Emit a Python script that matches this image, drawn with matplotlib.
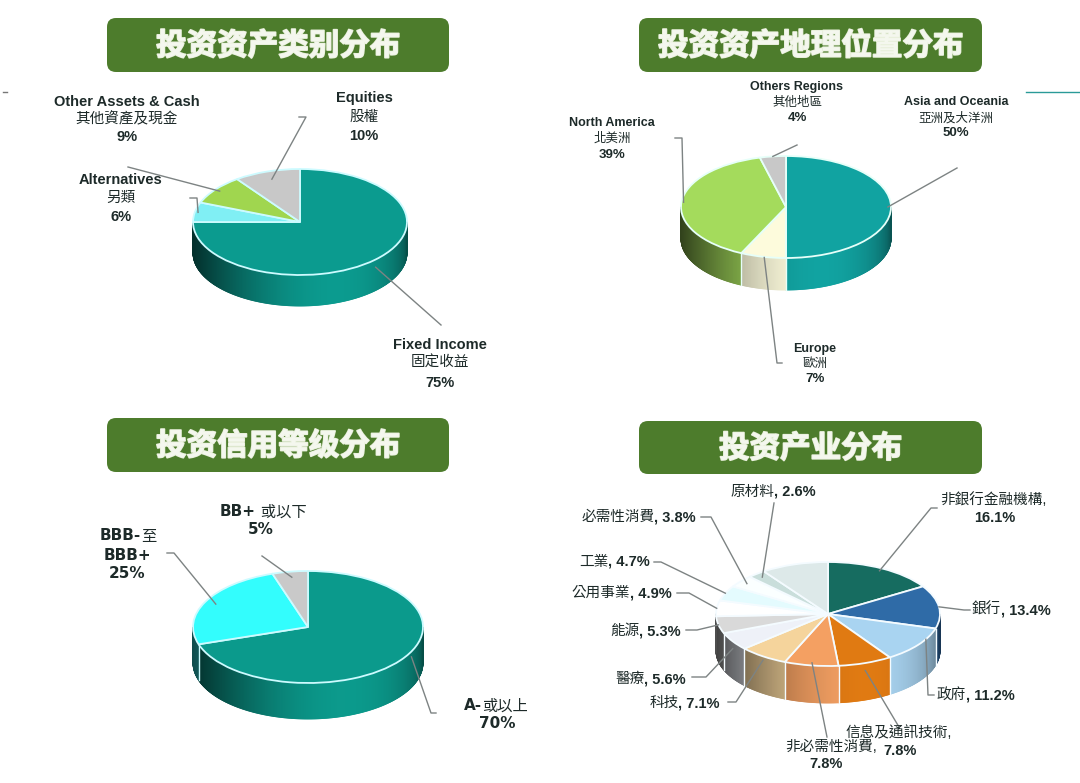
"""Four 3-D style pie charts: asset class, region, credit rating and industry."""

import numpy as np
import matplotlib

matplotlib.use("Agg")
import matplotlib.pyplot as plt
import matplotlib.colors as mcolors
import matplotlib.patheffects as pe
from matplotlib.collections import PolyCollection
from matplotlib.patches import FancyBboxPatch
from matplotlib.transforms import Affine2D

W, H = 1080, 783
CJK = "Noto Sans CJK TC"
LATIN = ["Liberation Sans", CJK, "DejaVu Sans"]
VERD = ["DejaVu Sans", CJK]
INK = "#1d2a29"
LINE = "#7d8383"
BANNER = "#4d7c2c"

# ---- data ---------------------------------------------------------------
titles = ["投资资产类别分布", "投资资产地理位置分布", "投资信用等级分布", "投资产业分布"]

asset_en = ["Fixed Income", "Alternatives", "Other Assets & Cash", "Equities"]
asset_zh = ["固定收益", "另類", "其他資產及現金", "股權"]
asset_values = [75, 6, 9, 10]

region_en = ["Asia and Oceania", "Europe", "North America", "Others Regions"]
region_zh = ["亞洲及大洋洲", "歐洲", "北美洲", "其他地區"]
region_values = [50, 7, 39, 4]

credit_grade = ["A-", "BBB-", "BB+"]
credit_zh = ["或以上", "至", " 或以下"]
credit_values = [70, 25, 5]

industry_names = ["非銀行金融機構", "銀行", "政府", "信息及通訊技術", "非必需性消費",
                  "科技", "醫療", "能源", "公用事業", "工業", "必需性消費", "原材料", ""]
industry_values = [16.1, 13.4, 11.2, 7.8, 7.8, 7.1, 5.6, 5.3, 4.9, 4.7, 3.8, 2.6, 9.7]

# ---- styles ---------------------------------------------------------------
asset_colors = ["#0b9b8f", "#80eff4", "#a0d64f", "#c8c8c8"]
region_colors = ["#11a3a1", "#fdfbdc", "#a4db5c", "#c8c8c8"]
credit_colors = ["#0b9a8c", "#33fdfd", "#c9c9c9"]
industry_colors = ["#166c60", "#2f6ba7", "#a9d4f1", "#e07a12", "#f4a062", "#f5d49c",
                   "#eef1f8", "#d9d9d9", "#ffffff", "#e4fbfe", "#fbffff", "#c9dedb",
                   "#dde9e9"]

# pie geometry in image pixels: centre x, centre y, half width, half height, depth
geo_asset = (300, 222, 107, 53, 31)
geo_region = (786, 207, 105, 51, 32)
geo_credit = (308, 627, 115, 56, 36)
geo_industry = (828, 614, 112, 52, 37)


def Y(y):
    return H - y


def wall_shade(tm):
    # light comes from the front right: darkest at the left edge
    phi = np.degrees(tm) % 360 - 290
    g = np.cos(np.radians(phi * 90 / 110))
    return 0.3 + 0.7 * max(g, 0) ** 2


def draw_pie(ax, values, colors, geo, edge):
    cx, cy, a, b, depth = geo
    cyy = Y(cy)
    wedges, _ = ax.pie(values, colors=colors, startangle=90, counterclock=False,
                       radius=a, center=(cx, cyy),
                       wedgeprops=dict(edgecolor=edge, linewidth=1.3))
    squash = Affine2D().translate(-cx, -cyy).scale(1, b / a).translate(cx, cyy)
    for w in wedges:
        w.set_transform(squash + ax.transData)
        w.set_zorder(3)

    # shaded side wall on the front half
    polys, fcs = [], []
    for w, c in zip(wedges, colors):
        t = np.radians(np.append(np.arange(w.theta1, w.theta2, 0.5), w.theta2))
        rgb = np.array(mcolors.to_rgb(c))
        for t0, t1 in zip(t[:-1], t[1:]):
            tm = 0.5 * (t0 + t1)
            if np.sin(tm) >= 0:
                continue
            x0, x1 = cx + a * np.cos(t0), cx + a * np.cos(t1)
            y0, y1 = cyy + b * np.sin(t0), cyy + b * np.sin(t1)
            polys.append([(x0, y0), (x1, y1), (x1, y1 - depth), (x0, y0 - depth)])
            fcs.append(np.clip(rgb * wall_shade(tm), 0, 1))
    ax.add_collection(PolyCollection(polys, facecolors=fcs, edgecolors=fcs,
                                     linewidths=0.6, zorder=2))
    for w in wedges:
        th = np.radians(w.theta1)
        if np.sin(th) < -0.05:
            x = cx + a * np.cos(th)
            y = cyy + b * np.sin(th)
            ax.plot([x, x], [y, y - depth], color=edge, lw=1.0, zorder=2.5)
    return wedges


def leader(ax, geo, wedge, pts, r=1.0, drop=0.0, f=0.5):
    cx, cy, a, b, depth = geo
    th = np.radians(wedge.theta1 + f * (wedge.theta2 - wedge.theta1))
    xs = [cx + r * a * np.cos(th)] + [p[0] for p in pts]
    ys = [Y(cy) + r * b * np.sin(th) - drop * depth] + [Y(p[1]) for p in pts]
    ax.plot(xs, ys, color=LINE, lw=1.0, zorder=4)


def line(ax, x, y, s, weight="bold", size=10.5, family=LATIN, ha="center"):
    return ax.text(x, Y(y), s, ha=ha, va="center", fontsize=size,
                   fontweight=weight, family=family, color=INK, zorder=5)


def rich(ax, x, y, parts, ha="left", size=10.5, family=LATIN):
    order = parts if ha == "left" else parts[::-1]
    prev = None
    for txt, wt in order:
        kw = dict(ha=ha, fontsize=size, fontweight=wt, family=family,
                  color=INK, zorder=5)
        if prev is None:
            prev = ax.text(x, Y(y), txt, va="center", **kw)
        else:
            prev = ax.annotate(txt, xy=(1 if ha == "left" else 0, 0),
                               xycoords=prev, va="bottom", **kw)
    return prev


fig = plt.figure(figsize=(W / 100, H / 100), dpi=100)
ax = fig.add_axes([0, 0, 1, 1])

# ---- title banners ------------------------------------------------------
banners = [(107, 18, 449, 72), (639, 18, 982, 72), (107, 418, 449, 472), (639, 421, 982, 474)]
for (x0, y0, x1, y1), t in zip(banners, titles):
    ax.add_patch(FancyBboxPatch((x0, Y(y1)), x1 - x0, y1 - y0,
                                boxstyle="round,pad=0,rounding_size=9",
                                fc=BANNER, ec="none", zorder=1))
    ax.text((x0 + x1) / 2, Y((y0 + y1) / 2 + 1), t, ha="center", va="center",
            fontsize=22, fontweight="bold", family=["Noto Sans CJK SC"],
            color="#f4f7ee", zorder=2,
            path_effects=[pe.withStroke(linewidth=1.2, foreground="#e9f0dc")])

ax.plot([1026, 1080], [Y(92), Y(92)], color="#2a9a98", lw=1.0)
ax.plot([3, 7], [Y(92), Y(92)], color="#777777", lw=1.0)

# ---- chart 1: asset class -----------------------------------------------
w1 = draw_pie(ax, asset_values, asset_colors, geo_asset, "#cdfbff")
asset_text = [(440, [345, 363, 383]), (121, [180, 198, 217]),
              (127, [102, 119, 137]), (364, [98, 117, 136])]
for (x, ys), en, zh, v in zip(asset_text, asset_en, asset_zh, asset_values):
    line(ax, x, ys[0], en)
    line(ax, x, ys[1], zh, weight="normal")
    line(ax, x, ys[2], f"{v}%")
leader(ax, geo_asset, w1[0], [(441, 325)], r=1.0, drop=0.25)
leader(ax, geo_asset, w1[1], [(197, 198), (190, 198)], r=0.97)
leader(ax, geo_asset, w1[2], [(128, 167)], r=0.95)
leader(ax, geo_asset, w1[3], [(306, 117), (299, 117)], r=0.85)

# ---- chart 2: region ------------------------------------------------------
w2 = draw_pie(ax, region_values, region_colors, geo_region, "#e6fff9")
region_text = [(956, [102, 118, 133]), (815, [349, 364, 379]),
               (612, [123, 139, 155]), (797, [87, 103, 118])]
for (x, ys), en, zh, v in zip(region_text, region_en, region_zh, region_values):
    line(ax, x, ys[0], en, size=9)
    line(ax, x, ys[1], zh, weight="normal", size=9)
    line(ax, x, ys[2], f"{v}%", size=9.5)
leader(ax, geo_region, w2[0], [(957, 168)], r=0.97)
leader(ax, geo_region, w2[1], [(777, 363), (782, 363)], r=0.95, drop=0.1)
leader(ax, geo_region, w2[2], [(682, 138), (675, 138)], r=0.98)
leader(ax, geo_region, w2[3], [(797, 145)], r=1.0)

# ---- chart 3: credit rating ---------------------------------------------
w3 = draw_pie(ax, credit_values, credit_colors, geo_credit, "#cdfbff")
rich(ax, 464, 706, [(credit_grade[0], "bold"), (credit_zh[0], "normal")], size=11, family=VERD)
line(ax, 497, 724, f"{credit_values[0]}%", size=11, family=VERD)
rich(ax, 100, 536, [(credit_grade[1], "bold"), (credit_zh[1], "normal")], size=11, family=VERD)
line(ax, 127, 555, "BBB+", size=11, family=VERD)
line(ax, 127, 573, f"{credit_values[1]}%", size=11, family=VERD)
rich(ax, 220, 512, [(credit_grade[2], "bold"), (credit_zh[2], "normal")], size=11, family=VERD)
line(ax, 261, 530, f"{credit_values[2]}%", size=11, family=VERD)
leader(ax, geo_credit, w3[0], [(431, 713), (436, 713)], r=1.0, drop=0.15, f=0.54)
leader(ax, geo_credit, w3[1], [(174, 553), (167, 553)], r=0.9)
leader(ax, geo_credit, w3[2], [(262, 556)], r=0.9)

# ---- chart 4: industry ----------------------------------------------------
w4 = draw_pie(ax, industry_values, industry_colors, geo_industry, "#f4fbff")
pct = [f", {v}%" for v in industry_values]

line(ax, 993, 500, industry_names[0] + ",", weight="normal")
line(ax, 995, 518, f"{industry_values[0]}%")
rich(ax, 972, 610, [(industry_names[1], "normal"), (pct[1], "bold")])
rich(ax, 937, 695, [(industry_names[2], "normal"), (pct[2], "bold")])
line(ax, 845, 733, industry_names[3] + ",", weight="normal", ha="left")
line(ax, 900, 751, f"{industry_values[3]}%")
line(ax, 831, 747, industry_names[4] + ",", weight="normal")
line(ax, 826, 764, f"{industry_values[4]}%")
right_side = [(5, 720, 703), (6, 686, 679), (7, 681, 631), (8, 672, 593),
              (9, 650, 562), (10, 696, 517)]
for i, x, y in right_side:
    rich(ax, x, y, [(industry_names[i], "normal"), (pct[i], "bold")], ha="right")
rich(ax, 730, 492, [(industry_names[11], "normal"), (pct[11], "bold")])

leader(ax, geo_industry, w4[0], [(931, 508), (937, 508)], r=0.95)
leader(ax, geo_industry, w4[1], [(964, 610), (970, 610)], r=1.0)
leader(ax, geo_industry, w4[2], [(928, 695), (934, 695)], r=1.0, f=0.68)
leader(ax, geo_industry, w4[3], [(899, 727)], r=1.0, drop=0.2)
leader(ax, geo_industry, w4[4], [(827, 737)], r=0.95)
leader(ax, geo_industry, w4[5], [(736, 702), (728, 702)], r=1.0, drop=0.1)
leader(ax, geo_industry, w4[6], [(706, 677), (692, 677)], r=1.0, drop=0.2)
leader(ax, geo_industry, w4[7], [(697, 630), (686, 630)], r=1.0)
leader(ax, geo_industry, w4[8], [(689, 593), (677, 593)], r=1.0)
leader(ax, geo_industry, w4[9], [(661, 562), (654, 562)], r=1.0)
leader(ax, geo_industry, w4[10], [(711, 517), (701, 517)], r=0.93)
leader(ax, geo_industry, w4[11], [(774, 503)], r=0.92)

ax.set_xlim(0, W)
ax.set_ylim(0, H)
ax.set_aspect("auto")
ax.axis("off")
fig.savefig("out.png", dpi=100, facecolor="white")
